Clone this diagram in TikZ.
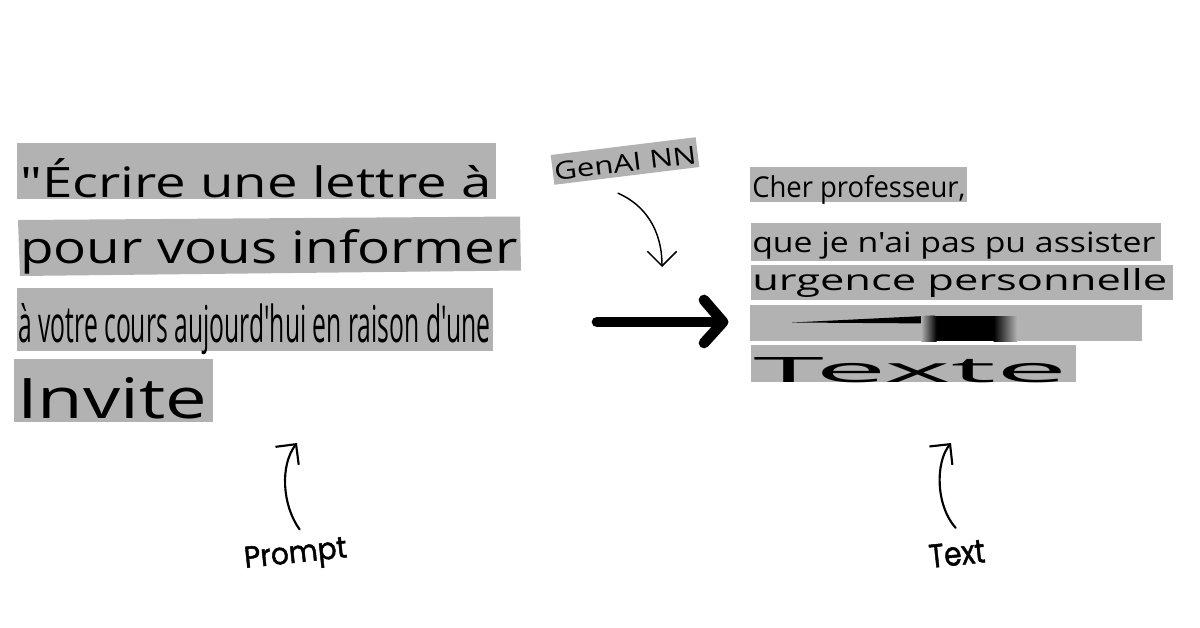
\documentclass[tikz,border=0pt]{standalone}
\usepackage{fontspec}
\setmainfont{Open Sans}[Ligatures=TeXOff]
\newfontfamily\handfont{Poppins}[FakeBold=1.6]
\usetikzlibrary{arrows.meta}
\definecolor{boxgray}{gray}{0.7}
\newlength\pxu
\setlength\pxu{0.75pt}
\newcommand\stretchtext[3]{\resizebox{#1\pxu}{#2\pxu}{#3}}

\begin{document}
\begin{tikzpicture}[x=0.75pt,y=-0.75pt,
		line/.style={inner sep=0pt,anchor=base west},
		hand/.style={font=\handfont,inner sep=0pt,anchor=base west,rotate=6},
		curvy/.style={line width=1.6pt,line cap=round,-{Straight Barb[length=11pt,width=22pt]}},
		flow/.style={line width=8pt,line cap=round,line join=round}]
	\path[use as bounding box,fill=white] (0,0) rectangle (1200,628);

	% prompt side
	\fill[boxgray] (17,143) rectangle (496,198.5);
	\fill[boxgray] (18,220)--(520,216.5)--(521,270.5)--(20,276)--cycle;
	\fill[boxgray] (17,288) rectangle (493,351);
	\fill[boxgray] (14,359) rectangle (213,422);
	\node[line](ecrire) at (20,197) {\stretchtext{471}{39}{"Écrire une lettre à}};
	\node[line](pour) at (20,263) {\stretchtext{497}{34}{pour vous informer}};
	\node[line](cours) at (18,342) {\stretchtext{472}{39}{à votre cours aujourd'hui en raison d'une}};
	\node[line](invite) at (17,418.5) {\stretchtext{190}{41}{Invite}};

	% generated side
	\fill[boxgray] (750,166.5) rectangle (967,202);
	\fill[boxgray] (751,223) rectangle (1161,261);
	\fill[boxgray] (751,264.5) rectangle (1172.5,300);
	\fill[boxgray] (750,305) rectangle (1142,341);
	\fill[boxgray] (751,345) rectangle (1076,381.5);
	\node[line](cher) at (752,197) {\stretchtext{213}{22}{Cher professeur,}};
	\node[line](que) at (752,252) {\stretchtext{403}{20.5}{que je n'ai pas pu assister}};
	\node[line](urgence) at (752,290.5) {\stretchtext{415}{22}{urgence personnelle}};
	\node[line](texte) at (753,382) {\stretchtext{314}{25}{Texte}};
	\fill (792,322.5)--(935,315.5)--(935,323.5)--cycle;
	\fill (936,316) rectangle (994,341);
	\shade[left color=boxgray,right color=black] (921,316) rectangle (936.5,341);
	\shade[left color=black,right color=boxgray] (993.5,316) rectangle (1017,341);

	% model
	\node[fill=boxgray,inner sep=0pt,rotate=7,minimum width=109.5pt,minimum height=22.5pt,
		text height=16.5pt,text depth=0pt](genai) at (625,161) {\stretchtext{143}{18}{GenAI NN}};

	\coordinate(flowStart) at (597,322);
	\coordinate(flowEnd) at (723,322);
	\draw[flow] (flowStart)--(flowEnd);
	\draw[flow] (704,300)--(flowEnd)--(704,343);

	% labels
	\node[hand](prompt) at (245,568) {\stretchtext{103}{21}{Prompt}};
	\node[hand](text) at (930,568) {\stretchtext{56}{23}{Text}};
	\coordinate(promptTip) at (297,443);
	\coordinate(textTip) at (951,443);
	\coordinate(genaiTip) at (662,267);
	\draw[curvy] ([xshift=4pt,yshift=9pt]prompt.north) .. controls (282,505) and (280,465) .. (promptTip);
	\draw[curvy] ([yshift=10.5pt]text.north) .. controls (936,506) and (935,463) .. (textTip);
	\draw[curvy,line width=1.1pt] ([xshift=-6.6pt,yshift=-12.8pt]genai.south) .. controls (645,205) and (662,230) .. (genaiTip);
\end{tikzpicture}
\end{document}
